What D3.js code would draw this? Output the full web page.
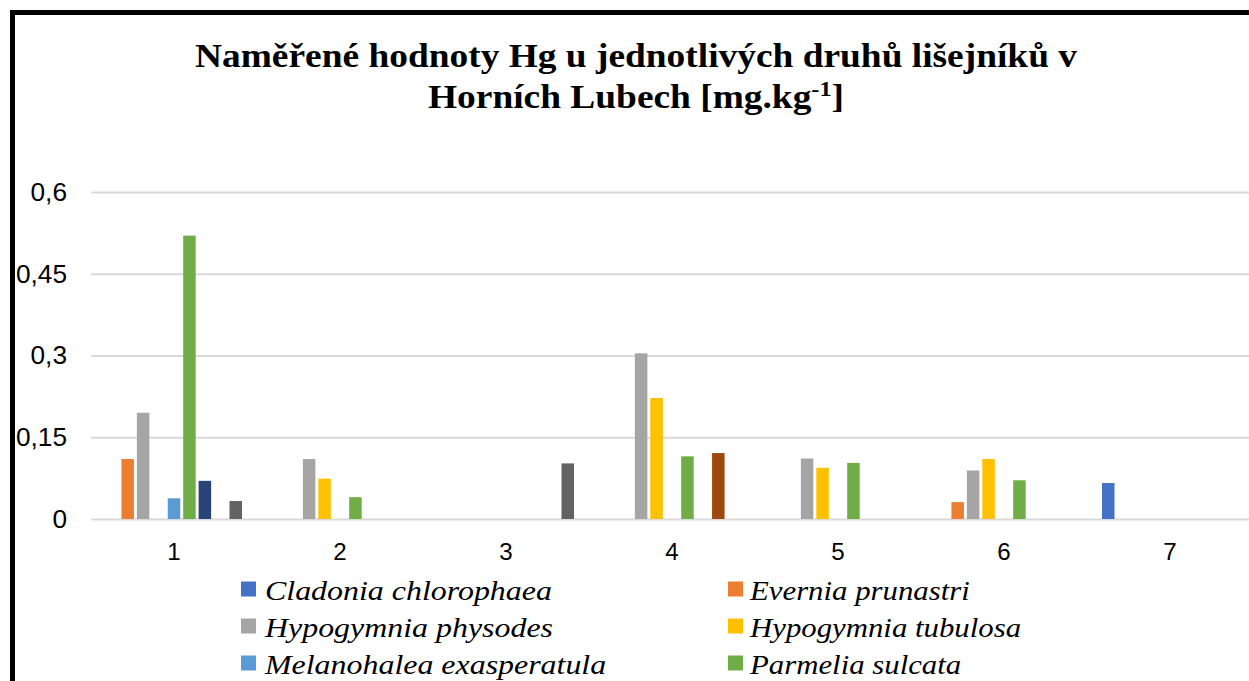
<!DOCTYPE html>
<html>
<head>
<meta charset="utf-8">
<script src="https://cdn.jsdelivr.net/npm/d3@7"></script>
<style>
  body { margin: 0; background: #fff; }
  svg { display: block; }
  .serif { font-family: 'Liberation Serif', 'Times New Roman', serif; }
  .sans { font-family: 'Liberation Sans', Arial, sans-serif; }
</style>
</head>
<body>
<svg width="1249" height="681"></svg>
<script>
// data
const categories = ['1', '2', '3', '4', '5', '6', '7'];
const seriesNames = [
  'Cladonia chlorophaea', 'Evernia prunastri',
  'Hypogymnia physodes', 'Hypogymnia tubulosa',
  'Melanohalea exasperatula', 'Parmelia sulcata',
  'Parmelina tiliacea', 'Physcia adscendens',
  'Xanthoria parietina'
];
const seriesColors = ['#4472C4', '#ED7D31', '#A5A5A5', '#FFC000', '#5B9BD5',
  '#70AD47', '#264478', '#9E480E', '#636363'];
const cladonia   = [null, null, null, null, null, null, 0.066];
const evernia    = [0.110, null, null, null, null, 0.031, null];
const physodes   = [0.195, 0.110, null, 0.304, 0.111, 0.089, null];
const tubulosa   = [null, 0.074, null, 0.222, 0.094, 0.110, null];
const melanohal  = [0.038, null, null, null, null, null, null];
const parmelia   = [0.520, 0.040, null, 0.115, 0.103, 0.071, null];
const parmelina  = [0.070, null, null, null, null, null, null];
const physcia    = [null, null, null, 0.121, null, null, null];
const xanthoria  = [0.033, null, 0.102, null, null, null, null];
const seriesValues = [cladonia, evernia, physodes, tubulosa, melanohal,
  parmelia, parmelina, physcia, xanthoria];
const yTicks = [0, 0.15, 0.3, 0.45, 0.6];

const svg = d3.select('svg');

// outer frame (right / bottom are cut off in the picture)
svg.append('rect')
  .attr('x', 12.5).attr('y', 12.5)
  .attr('width', 1270).attr('height', 720)
  .attr('fill', 'none')
  .attr('stroke', '#000')
  .attr('stroke-width', 5);

// title (the picture is a bit stretched sideways, hence the scale)
const title = svg.append('text')
  .attr('class', 'serif')
  .attr('text-anchor', 'middle')
  .attr('transform', 'translate(636,0) scale(1.1,1)')
  .style('font-weight', 'bold')
  .style('font-size', '34px');
title.append('tspan').attr('x', 0).attr('y', 67)
  .text('Naměřené hodnoty Hg u jednotlivých druhů lišejníků v');
const t2 = title.append('tspan').attr('x', 0).attr('y', 108)
  .text('Horních Lubech [mg.kg');
t2.append('tspan').attr('dy', -12).style('font-size', '22px').text('-1');
t2.append('tspan').attr('dy', 12).text(']');

const left = 91, right = 1253;
const y = d3.scaleLinear().domain([0, 0.6]).range([519, 192]);

const x0 = d3.scaleBand()
  .domain(categories)
  .range([left, right])
  .paddingInner(0.163)
  .paddingOuter(0.0815);

const x1 = d3.scaleBand()
  .domain(d3.range(seriesNames.length))
  .range([0, x0.bandwidth()])
  .paddingInner(0.19)
  .paddingOuter(0.095);

// gridlines
svg.append('g')
  .attr('transform', `translate(${left},0)`)
  .call(d3.axisLeft(y).tickValues(yTicks).tickSize(-(right - left)).tickFormat(''))
  .call(g => g.select('.domain').remove())
  .call(g => g.selectAll('line').attr('stroke', '#D9D9D9').attr('stroke-width', 2));

// y labels
svg.append('g')
  .selectAll('text')
  .data(yTicks)
  .join('text')
  .attr('class', 'sans')
  .attr('transform', d => `translate(67,${y(d)}) scale(1.05,1)`)
  .attr('dy', '0.35em')
  .attr('text-anchor', 'end')
  .style('font-size', '25px')
  .text(d => d3.format('')(d).replace('.', ','));

// x labels
svg.append('g')
  .selectAll('text')
  .data(categories)
  .join('text')
  .attr('class', 'sans')
  .attr('transform', d => `translate(${x0(d) + x0.bandwidth() / 2},560) scale(1.05,1)`)
  .attr('text-anchor', 'middle')
  .style('font-size', '23px')
  .text(d => d);

// bars
const bars = [];
seriesValues.forEach((vals, s) => {
  vals.forEach((v, c) => {
    if (v != null) bars.push({ s: s, cat: categories[c], v: v });
  });
});

svg.append('g')
  .selectAll('rect')
  .data(bars)
  .join('rect')
  .attr('x', d => x0(d.cat) + x1(d.s))
  .attr('y', d => y(d.v))
  .attr('width', x1.bandwidth())
  .attr('height', d => y(0) - y(d.v))
  .attr('fill', d => seriesColors[d.s]);

// legend, two columns
const legend = svg.append('g')
  .selectAll('g')
  .data(seriesNames)
  .join('g')
  .attr('transform', (d, i) => `translate(${i % 2 === 0 ? 241 : 728},${589 + Math.floor(i / 2) * 37})`);

legend.append('rect')
  .attr('x', 0).attr('y', -7.5)
  .attr('width', 15).attr('height', 15)
  .attr('fill', (d, i) => seriesColors[i]);

legend.append('text')
  .attr('class', 'serif')
  .attr('transform', (d, i) => `translate(${i % 2 === 0 ? 24 : 22},10.5) scale(${i % 2 === 0 ? 1.14 : 1.1},1)`)
  .style('font-style', 'italic')
  .style('font-size', '28px')
  .text(d => d);
</script>
</body>
</html>
